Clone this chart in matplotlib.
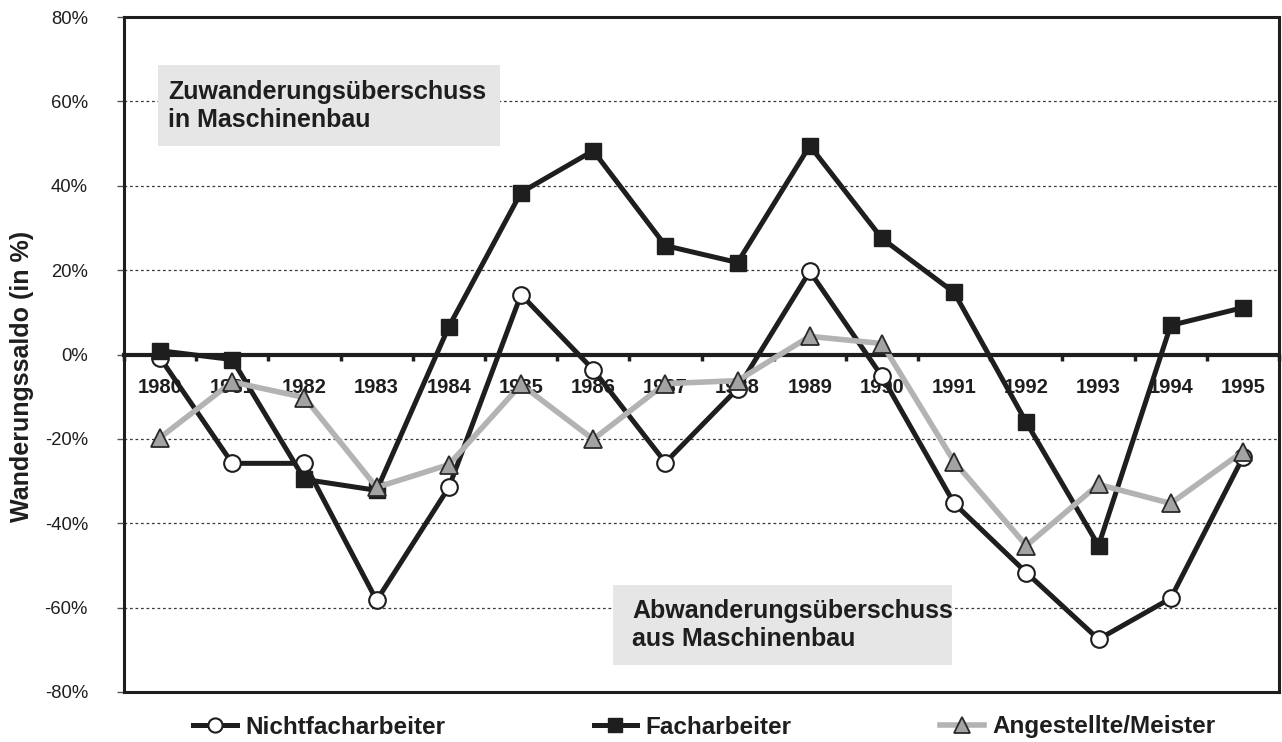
import numpy as np
import matplotlib
matplotlib.use("Agg")
import matplotlib.pyplot as plt
from matplotlib.patches import Rectangle

plt.rcParams["font.family"] = ["Liberation Sans", "DejaVu Sans"]

# Werte (Wanderungssaldo in %)
years = ["1980", "1981", "1982", "1983", "1984", "1985", "1986", "1987",
         "1988", "1989", "1990", "1991", "1992", "1993", "1994", "1995"]
nichtfach = [-0.8, -25.8, -25.8, -58.3, -31.5, 14.2, -3.6, -25.6,
             -8.1, 19.7, -5.2, -35.3, -51.7, -67.5, -57.8, -24.4]
fach = [0.9, -1.2, -29.6, -32.2, 6.6, 38.4, 48.3, 25.8,
        21.8, 49.5, 27.5, 14.7, -16.1, -45.3, 6.9, 11.1]
angestellte = [-19.7, -6.5, -10.2, -31.5, -26.1, -7.1, -20.1, -6.9,
               -6.2, 4.3, 2.6, -25.4, -45.3, -30.8, -35.3, -23.0]
y_ticks = [-80, -60, -40, -20, 0, 20, 40, 60, 80]

DARK = "#1e1e1e"
GREY_LINE = "#b3b3b3"
GREY_FACE = "#a3a3a3"

fig = plt.figure(figsize=(12.82, 7.42), dpi=100)
ax = fig.add_axes([124 / 1282, 1 - 692 / 742, 1155 / 1282, 675 / 742])

x = np.arange(len(years))

ax.plot(x, nichtfach, color=DARK, lw=3.6, marker="o", ms=12,
        mfc="white", mec=DARK, mew=1.5, zorder=4, label="Nichtfacharbeiter")
ax.plot(x, fach, color=DARK, lw=3.6, marker="s", ms=12,
        mfc=DARK, mec=DARK, mew=1, zorder=5, label="Facharbeiter")
ax.plot(x, angestellte, color=GREY_LINE, lw=4, marker="^", ms=13,
        mfc=GREY_FACE, mec="#2a2a2a", mew=1.3, zorder=6, label="Angestellte/Meister")

ax.set_xlim(-0.5, len(years) - 0.5)
ax.set_ylim(y_ticks[0], y_ticks[-1])

# horizontale Hilfslinien
for v in y_ticks[1:-1]:
    if v != 0:
        ax.axhline(v, color="#3a3a3a", lw=0.9, ls=(0, (2.2, 2.2)), zorder=1)

# Nulllinie mit Kategorie-Teilstrichen
ax.spines["bottom"].set_position(("data", 0))
ax.spines["bottom"].set_linewidth(3)
ax.spines["bottom"].set_color(DARK)
ax.spines["bottom"].set_zorder(3)
ax.set_xticks([])
ax.set_xticks(np.arange(len(years) + 1) - 0.5, minor=True)
ax.tick_params(axis="x", which="minor", direction="out", length=4, width=2.5,
               color=DARK)
ax.axhline(y_ticks[0], color=DARK, lw=2.2, clip_on=False, zorder=3)

for i, yr in enumerate(years):
    ax.text(i, 0.451, yr, transform=ax.get_xaxis_transform(), ha="center",
            va="center", fontsize=14.5, fontweight="bold", color=DARK, zorder=2)

for side in ["left", "top", "right"]:
    ax.spines[side].set_linewidth(2.2)
    ax.spines[side].set_color(DARK)

ax.set_yticks(y_ticks)
ax.set_yticklabels([f"{v}%" for v in y_ticks])
ax.tick_params(axis="y", direction="out", length=5, width=1, color="#555555",
               pad=21, labelsize=13.3, labelcolor=DARK)

fig.text(22 / 1282, 1 - 376 / 742, "Wanderungssaldo (in %)", rotation=90,
         ha="center", va="center", fontsize=18, fontweight="bold", color=DARK)

# Hinweis-Kästen
ax.add_patch(Rectangle((0.0294, 0.8089), 0.2961, 0.12, transform=ax.transAxes,
                       fc="#e6e6e6", ec="none", zorder=1.5))
ax.text(0.0381, 0.868, "Zuwanderungsüberschuss\nin Maschinenbau",
        transform=ax.transAxes, ha="left", va="center", fontsize=18,
        fontweight="bold", color=DARK, linespacing=1.25, zorder=2)
ax.add_patch(Rectangle((0.4234, 0.04), 0.2935, 0.1185, transform=ax.transAxes,
                       fc="#e6e6e6", ec="none", zorder=1.5))
ax.text(0.4398, 0.0993, "Abwanderungsüberschuss\naus Maschinenbau",
        transform=ax.transAxes, ha="left", va="center", fontsize=18,
        fontweight="bold", color=DARK, linespacing=1.25, zorder=2)

leg = fig.legend(loc="center left", bbox_to_anchor=(193 / 1282, 1 - 727 / 742),
                 ncol=3, frameon=False, borderpad=0, borderaxespad=0,
                 handlelength=1.8, handletextpad=0.35, columnspacing=6.1,
                 markerscale=0.85, prop={"size": 17.5, "weight": "bold"})
for t in leg.get_texts():
    t.set_color(DARK)

fig.savefig("out.png", dpi=100)
